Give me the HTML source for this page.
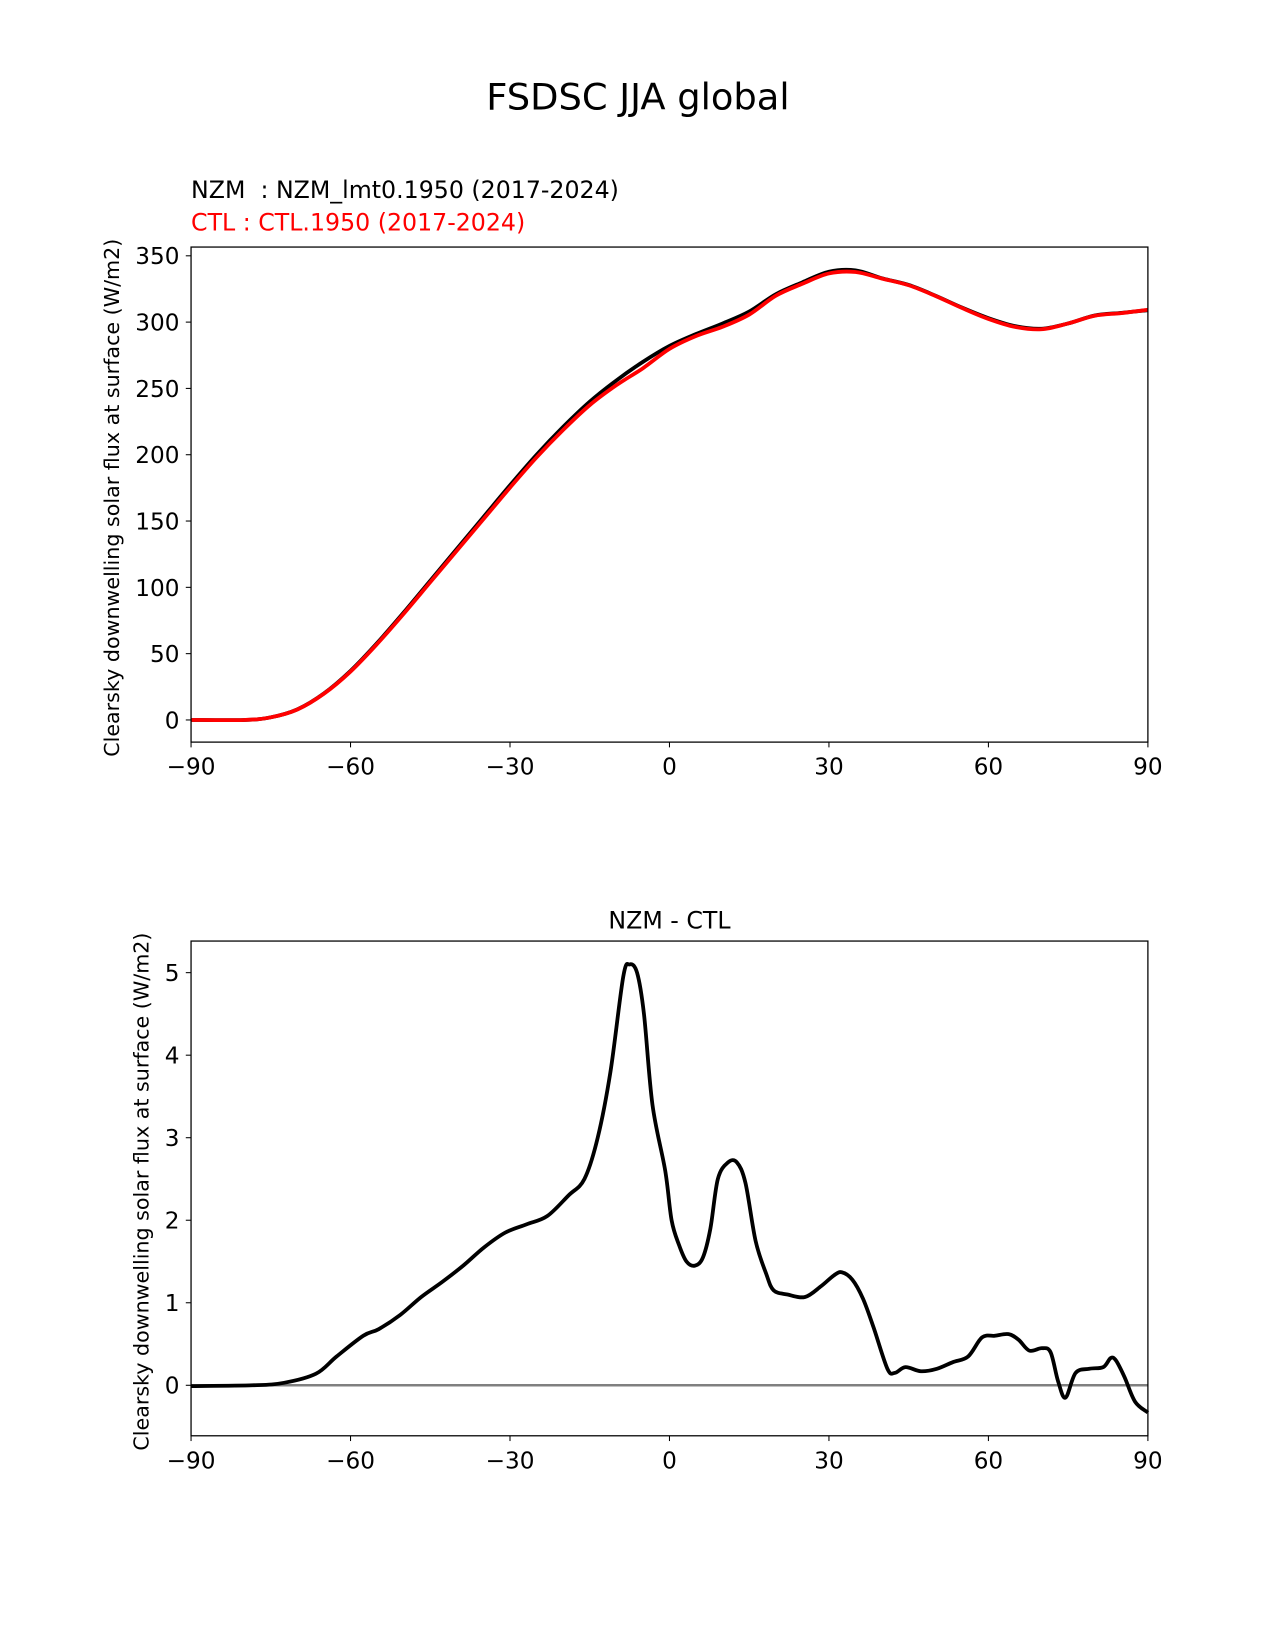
<!DOCTYPE html>
<html><head><meta charset="utf-8"><style>
html,body{margin:0;padding:0;background:#fff;}
svg{display:block;}
text{font-family:"DejaVu Sans","Liberation Sans",sans-serif;fill:#000;white-space:pre;}
</style></head><body>
<svg id="fig" width="1275" height="1650" viewBox="0 0 1211.25 1567.5" xmlns="http://www.w3.org/2000/svg" xml:space="preserve">
<rect width="1211.25" height="1567.5" fill="#fff"/>
<text x="606" y="104" font-size="35" text-anchor="middle">FSDSC JJA global</text>
<text x="181.5" y="188" font-size="22.5">NZM  : NZM_lmt0.1950 (2017-2024)</text>
<text x="181.5" y="219" font-size="22.5" style="fill:#ff0000">CTL : CTL.1950 (2017-2024)</text>
<text x="636" y="882" font-size="22.5" text-anchor="middle">NZM - CTL</text>
<g id="top"></g>
<g id="bot"></g>
</svg>
<script>
const topLats = [-90,-80,-75,-70,-65,-60,-55,-50,-45,-40,-35,-30,-25,-20,-15,-10,-5,0,5,10,15,20,25,30,35,40,45,50,55,60,65,70,75,80,85,90];
const nzmValues = [0,0,2,8,20,37,58,81,105,129,153,177,200,221,240,256,270,282,291,299,308,321,330,338,339,333,328,320,311,303,297,295,299,305,307,309];
const ctlValues = [0,0,2,7.9,19.8,36.5,57.3,80.1,103.9,127.7,151.4,175.2,198,218.7,237.4,252.4,265.2,279.8,289.5,296.5,305.7,319.9,328.9,336.7,337.8,332.8,327.8,319.8,310.7,302.4,296.4,294.6,299,304.8,306.8,309.3];
const diffLats = [-90,-78.4,-72.5,-66.5,-62.6,-57.6,-54.7,-50.7,-46.7,-42.8,-38.8,-34.9,-30.9,-26.9,-23,-19,-16,-13.5,-11.1,-8.7,-7.5,-6.1,-4.8,-3.2,-0.8,0.4,1.8,3.2,4.8,6.3,7.7,9.1,11,12.7,14.3,16.2,18.2,19.6,22.2,25.5,28.5,30.9,32.4,34.4,36.4,38.4,41,42.4,44.4,47.3,50.3,53.3,56.2,58.8,61.2,63.8,65.7,67.7,70.1,71.7,73.1,74.5,76.4,79,81.6,83,84,85.6,87.6,90];
const diffValues = [-0.01,0,0.03,0.14,0.35,0.6,0.68,0.85,1.07,1.25,1.45,1.67,1.85,1.95,2.05,2.3,2.5,3.0,3.8,4.95,5.1,5.0,4.5,3.4,2.6,2.0,1.7,1.5,1.45,1.55,1.9,2.5,2.7,2.7,2.45,1.75,1.35,1.15,1.1,1.07,1.2,1.33,1.37,1.28,1.05,0.7,0.2,0.15,0.22,0.17,0.2,0.28,0.35,0.58,0.6,0.62,0.55,0.42,0.45,0.4,0.05,-0.15,0.15,0.2,0.22,0.33,0.3,0.1,-0.2,-0.33];
const xTicks = [-90,-60,-30,0,30,60,90];
const xTickLabels = ["\u221290","\u221260","\u221230","0","30","60","90"];
const topYTicks = [0,50,100,150,200,250,300,350];
const botYTicks = [0,1,2,3,4,5];
const NS="http://www.w3.org/2000/svg";
function mk(p,tag,at){const e=document.createElementNS(NS,tag);for(const k in at)e.setAttribute(k,at[k]);p.appendChild(e);return e;}
const L=181.5,R=1090.5;
function xs(v){return L+(v+90)/180*(R-L);}
function smooth(pts){let d="M"+pts[0][0]+","+pts[0][1];for(let i=0;i<pts.length-1;i++){const p0=pts[i-1]||pts[i],p1=pts[i],p2=pts[i+1],p3=pts[i+2]||p2;d+=" C"+(p1[0]+(p2[0]-p0[0])/6)+","+(p1[1]+(p2[1]-p0[1])/6)+" "+(p2[0]-(p3[0]-p1[0])/6)+","+(p2[1]-(p3[1]-p1[1])/6)+" "+p2[0]+","+p2[1];}return d;}
function axes(g,T,B,ys,yTicks,name){
  let t;
  xTicks.forEach((v,i)=>{t=mk(g,'line',{x1:xs(v),x2:xs(v),y1:B,y2:B+5,stroke:'#000','stroke-width':1});
  
  t=mk(g,'text',{x:xs(v),y:B+31,'font-size':22,'text-anchor':'middle'});t.textContent=xTickLabels[i];
  });
  yTicks.forEach(v=>{t=mk(g,'line',{x1:L-5,x2:L,y1:ys(v),y2:ys(v),stroke:'#000','stroke-width':1});
  
  t=mk(g,'text',{x:L-11,y:ys(v)+8,'font-size':22,'text-anchor':'end'});t.textContent=String(v);
  });
  t=mk(g,'rect',{x:L,y:T,width:R-L,height:B-T,fill:'none',stroke:'#000','stroke-width':1.2});
  
}
const gT=document.getElementById('top');
const T1=234.7,B1=705,y1min=-16.7,y1max=356.6;
const ys1=v=>B1-(v-y1min)/(y1max-y1min)*(B1-T1);
let e=mk(gT,'path',{d:smooth(topLats.map((l,i)=>[xs(l),ys1(nzmValues[i])])),fill:'none',stroke:'#000','stroke-width':3.6});

e=mk(gT,'path',{d:smooth(topLats.map((l,i)=>[xs(l),ys1(ctlValues[i])])),fill:'none',stroke:'#ff0000','stroke-width':3.6});

axes(gT,T1,B1,ys1,topYTicks,'top');
e=mk(gT,'text',{x:0,y:0,'font-size':19.6,'text-anchor':'middle',transform:'translate(113,'+((T1+B1)/2+3)+') rotate(-90)'});
e.textContent='Clearsky downwelling solar flux at surface (W/m2)';

const gB=document.getElementById('bot');
const T2=894,B2=1364,y2min=-0.612,y2max=5.383;
const ys2=v=>B2-(v-y2min)/(y2max-y2min)*(B2-T2);
e=mk(gB,'line',{x1:L,x2:R,y1:ys2(0),y2:ys2(0),stroke:'#808080','stroke-width':2.4});

e=mk(gB,'path',{d:smooth(diffLats.map((l,i)=>[xs(l),ys2(diffValues[i])])),fill:'none',stroke:'#000','stroke-width':3.6});

axes(gB,T2,B2,ys2,botYTicks,'bottom');
e=mk(gB,'text',{x:0,y:0,'font-size':19.6,'text-anchor':'middle',transform:'translate(141,'+((T2+B2)/2+3)+') rotate(-90)'});
e.textContent='Clearsky downwelling solar flux at surface (W/m2)';

</script>
</body></html>
